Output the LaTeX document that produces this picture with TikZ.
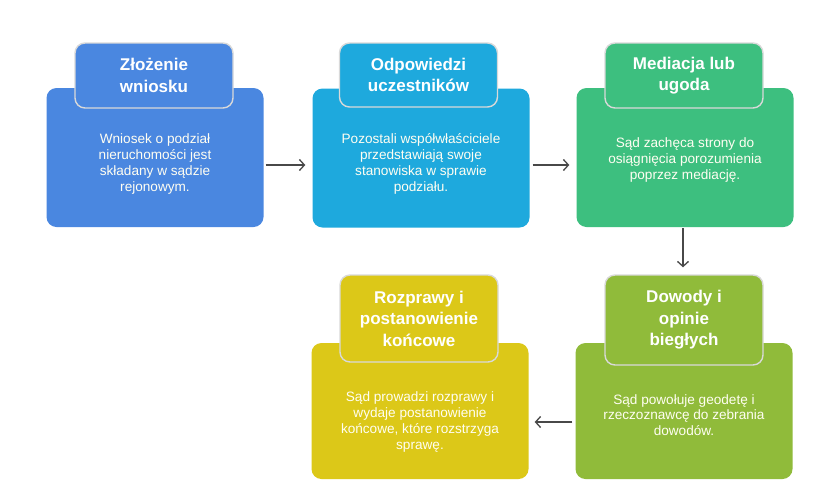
\documentclass[tikz,border=0pt]{standalone}
\usepackage{fontspec}
\setmainfont{Liberation Sans}
\usetikzlibrary{arrows.meta}
\definecolor{cblue}{HTML}{4A87E0}
\definecolor{ccyan}{HTML}{1EA9DD}
\definecolor{cgreen}{HTML}{3DBF7F}
\definecolor{colive}{HTML}{90BB3A}
\definecolor{cyell}{HTML}{DCC818}
\definecolor{arrowgray}{HTML}{484848}
\tikzset{
  bodybox/.style={rectangle, rounded corners=10pt, minimum width=217pt, minimum height=139pt, inner sep=0pt},
  titlebox/.style={rectangle, rounded corners=10pt, minimum width=158pt, draw=white!85!black, line width=1.4pt,
     text=white, font=\fontsize{17}{21.5}\selectfont\bfseries, align=center, inner sep=0pt},
  bodytext/.style={text=white!95!yellow, font=\fontsize{13.6}{15.8}\selectfont, align=center, inner sep=0pt},
  arr/.style={draw=arrowgray, line width=1.3pt, -{Straight Barb[length=5pt,width=11pt,line width=1.3pt]}}
}
\begin{document}
\begin{tikzpicture}[x=1pt,y=-1pt]
\useasboundingbox[fill=white] (0,0) rectangle (840,480);
% box 1
\node[bodybox, fill=cblue] (b1) at (155,157.5) {};
\node[titlebox, fill=cblue, minimum height=65pt] (t1) at (154,75.5) {Złożenie\\wniosku};
\node[bodytext] (d1) at (155,164) {Wniosek o podział\\nieruchomości jest\\składany w sądzie\\rejonowym.};
% box 2
\node[bodybox, fill=ccyan] (b2) at (421,158) {};
\node[titlebox, fill=ccyan, minimum height=64pt] (t2) at (418.5,75) {Odpowiedzi\\uczestników};
\node[bodytext] (d2) at (421,164) {Pozostali współwłaściciele\\przedstawiają swoje\\stanowiska w sprawie\\podziału.};
% box 3
\node[bodybox, fill=cgreen] (b3) at (685,157.5) {};
\node[titlebox, fill=cgreen, minimum height=65pt] (t3) at (684,75.5) {Mediacja lub\\ugoda};
\node[bodytext] (d3) at (685,160) {Sąd zachęca strony do\\osiągnięcia porozumienia\\poprzez mediację.};
% box 5
\node[bodybox, fill=colive, minimum height=136pt] (b5) at (684,411) {};
\node[titlebox, fill=colive, minimum height=90pt] (t5) at (684,320) {Dowody i\\opinie\\biegłych};
\node[bodytext] (d5) at (684,415) {Sąd powołuje geodetę i\\rzeczoznawcę do zebrania\\dowodów.};
% box 4
\node[bodybox, fill=cyell, minimum height=136pt] (b4) at (420,411) {};
\node[titlebox, fill=cyell, minimum height=87pt] (t4) at (419,318.5) {Rozprawy i\\postanowienie\\końcowe};
\node[bodytext] (d4) at (420,422) {Sąd prowadzi rozprawy i\\wydaje postanowienie\\końcowe, które rozstrzyga\\sprawę.};
% arrows
\draw[arr, shorten <=2pt, shorten >=7pt] (b1.east |- 0,165) -- (b2.west |- 0,165);
\draw[arr, shorten <=3pt, shorten >=7pt] (b2.east |- 0,165) -- (b3.west |- 0,165);
\draw[arr, shorten <=1pt, shorten >=7pt] (b3.south -| 683,0) -- (t5.north -| 683,0);
\draw[arr, shorten <=3pt, shorten >=6pt] (b5.west |- 0,422) -- (b4.east |- 0,422);
\end{tikzpicture}
\end{document}
